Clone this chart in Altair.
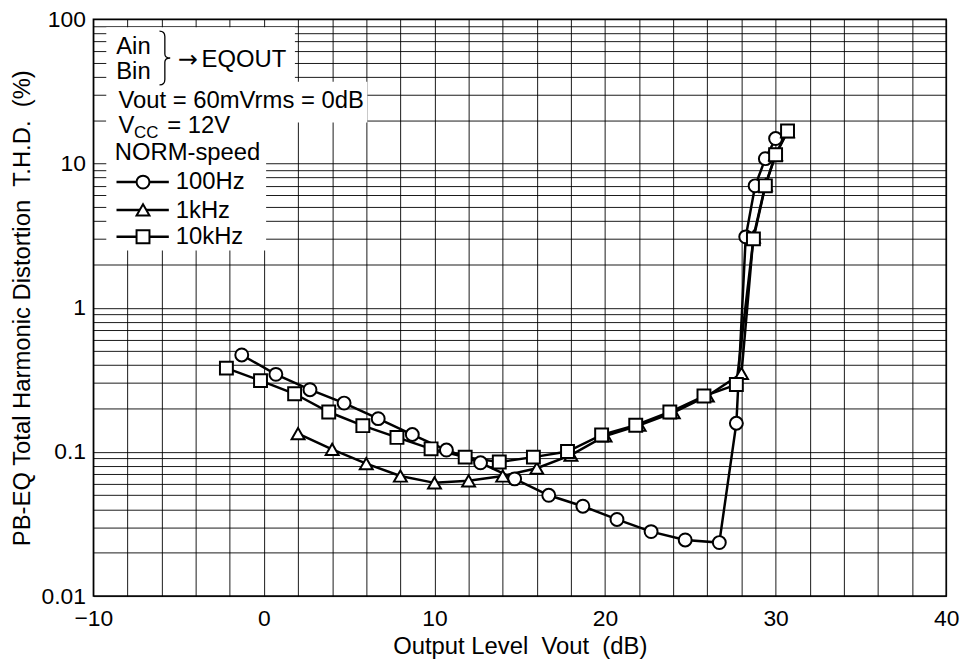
import altair as alt
import pandas as pd

FONT = "Liberation Sans"

# ---------------- data ----------------
series_names = ["100Hz", "1kHz", "10kHz"]
series_shapes = ["circle", "triangle-up", "square"]

x_100hz = [-1.3, 0.7, 2.7, 4.7, 6.7, 8.7, 10.7, 12.7, 14.7, 16.7, 18.7, 20.7,
           22.7, 24.7, 26.7, 27.7, 28.25, 28.8, 29.4, 30.0]
y_100hz = [0.47, 0.345, 0.27, 0.218, 0.17, 0.132, 0.103, 0.084, 0.065, 0.050,
           0.042, 0.034, 0.028, 0.0245, 0.0235, 0.158, 3.1, 7.0, 10.8, 14.9]

x_1khz = [2, 4, 6, 8, 10, 12, 14, 16, 18, 20, 22, 24, 26, 28, 28.7, 29.4, 30.0, 30.7]
y_1khz = [0.134, 0.104, 0.083, 0.068, 0.061, 0.063, 0.068, 0.077, 0.095, 0.129,
          0.153, 0.187, 0.244, 0.35, 3.1, 7.1, 11.5, 16.6]

x_10khz = [-2.2, -0.2, 1.8, 3.8, 5.8, 7.8, 9.8, 11.8, 13.8, 15.8, 17.8, 19.8,
           21.8, 23.8, 25.8, 27.7, 28.7, 29.4, 30.0, 30.7]
y_10khz = [0.381, 0.312, 0.253, 0.189, 0.152, 0.126, 0.105, 0.092, 0.085, 0.092,
           0.1006, 0.131, 0.153, 0.189, 0.244, 0.293, 3.0, 7.0, 11.5, 16.8]

x_tick_labels = [-10, 0, 10, 20, 30, 40]
y_tick_labels = [0.01, 0.1, 1, 10, 100]

x_title = "Output Level\u00a0\u00a0Vout\u00a0\u00a0(dB)"
y_title = "PB-EQ Total Harmonic Distortion\u00a0\u00a0T.H.D.\u00a0\u00a0(%)"

# ---------------- tables ----------------
rows = []
for name, xs, ys in zip(series_names, [x_100hz, x_1khz, x_10khz], [y_100hz, y_1khz, y_10khz]):
    for a, b in zip(xs, ys):
        rows.append({"series": name, "x": a, "y": b})
df = pd.DataFrame(rows)

x_grid = list(range(-10, 41, 2))
y_grid = [m * 10.0 ** e for e in range(-2, 2) for m in range(1, 10)] + [100.0]
y_grid = [float(f"{v:.6g}") for v in y_grid]

W, H = 859, 581

x_label_expr = "indexof(%s, datum.value) >= 0 ? datum.label : ''" % str(x_tick_labels)
y_label_expr = "indexof(%s, datum.value) >= 0 ? datum.label : ''" % str(y_tick_labels)

x_enc = alt.X(
    "x:Q",
    scale=alt.Scale(domain=[-10, 40], nice=False, zero=False),
    axis=alt.Axis(
        values=x_grid, labelExpr=x_label_expr, format="d", title=x_title,
        grid=True, ticks=False, tickSize=0, domain=False, labelFlush=False,
        labelOverlap=False, labelPadding=12, titleBaseline="alphabetic", titleY=58,
    ),
)
y_enc = alt.Y(
    "y:Q",
    scale=alt.Scale(type="log", domain=[0.01, 100], nice=False),
    axis=alt.Axis(
        values=y_grid, labelExpr=y_label_expr, format="~g", title=y_title,
        grid=True, ticks=False, tickSize=0, domain=False,
        labelOverlap=False, labelPadding=8, titleBaseline="alphabetic",
        titleX=-64.5, titleY=H / 2,
    ),
)

lines = alt.Chart(df).mark_line(color="black", strokeWidth=2.5).encode(
    x=x_enc, y=y_enc, detail="series:N"
)
points = alt.Chart(df).mark_point(filled=True, size=169, strokeWidth=2, opacity=1).encode(
    x=x_enc, y=y_enc,
    shape=alt.Shape("series:N", scale=alt.Scale(domain=series_names, range=series_shapes), legend=None),
    fill=alt.value("white"), stroke=alt.value("black"),
)

one = pd.DataFrame({"k": [0]})


def white_box(x1, x2, y1, y2):
    return alt.Chart(one).mark_rect(color="white", opacity=1).encode(
        x=alt.value(x1), x2=alt.value(x2), y=alt.value(y1), y2=alt.value(y2)
    )


def label(txt, x, y, size=24, font=FONT):
    return alt.Chart(one).mark_text(
        text=txt, font=font, fontSize=size, align="left", baseline="alphabetic", color="black"
    ).encode(x=alt.value(x), y=alt.value(y))


BRACE = "M-0.2,-1 Q0,-1 0,-0.8 L0,-0.15 Q0,0 0.2,0 Q0,0 0,0.15 L0,0.8 Q0,1 -0.2,1"

layers = [
    white_box(13, 203, 8, 70),
    white_box(13, 276, 63, 104),
    white_box(13, 174, 100, 233),
    label("Ain", 23, 34.7),
    label("Bin", 23, 60.3),
    alt.Chart(one).mark_point(shape=BRACE, size=2916, filled=False, stroke="black",
                              strokeWidth=1.3, opacity=1).encode(x=alt.value(72), y=alt.value(39)),
    label("\u2192", 85, 48, size=24, font="DejaVu Sans"),
    label("EQOUT", 109, 48),
    label("Vout = 60mVrms = 0dB", 25.3, 89),
    label("V", 25.3, 114.7),
    label("CC", 41, 119.7, size=17),
    label("= 12V", 74.5, 114.7),
    label("NORM-speed", 21.5, 141.3),
]

legend_y = [164, 192, 219]
legend_text_y = [171.3, 199.7, 226.3]
for name, shp, ly, ty in zip(series_names, series_shapes, legend_y, legend_text_y):
    layers.append(alt.Chart(one).mark_rule(color="black", strokeWidth=2.5).encode(
        x=alt.value(23.3), x2=alt.value(76), y=alt.value(ly)))
    layers.append(alt.Chart(one).mark_point(shape=shp, size=169, filled=True, fill="white",
                                            stroke="black", strokeWidth=2, opacity=1).encode(
        x=alt.value(50), y=alt.value(ly)))
    layers.append(label(name, 83, ty))

chart = alt.layer(lines, points, *layers).properties(
    width=W, height=H,
    autosize=alt.AutoSizeParams(type="none"),
    padding={"left": 86, "top": 9, "right": 20, "bottom": 62},
).configure_view(
    stroke="black", strokeWidth=1.5
).configure_axis(
    labelFont=FONT, titleFont=FONT, labelFontSize=23, titleFontSize=24,
    titleFontWeight="normal", labelColor="black", titleColor="black",
    gridColor="black", gridWidth=1, gridOpacity=0.9,
)

chart.save("out.html", embed_options={"renderer": "svg", "actions": False})
